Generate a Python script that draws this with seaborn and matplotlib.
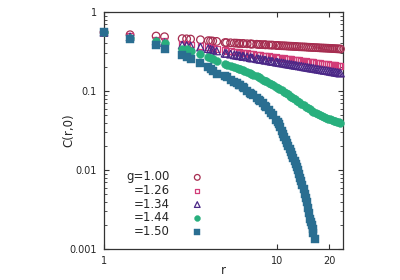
import numpy as np
import pandas as pd
import matplotlib
matplotlib.use("Agg")
import matplotlib.pyplot as plt
import seaborn as sns
from matplotlib.ticker import FixedLocator, FixedFormatter, NullLocator

# distances on the lattice (r) and correlation C(r,0) for each g
r = [1, 1.414, 2, 2.236, 2.828, 3, 3.162, 3.606, 4, 4.123, 4.243, 4.472,
     5, 5.099, 5.385, 5.657, 5.831, 6, 6.083, 6.325, 6.403, 6.708,
     7, 7.071, 7.211, 7.616, 7.81, 8, 8.246, 8.485, 8.602, 8.944,
     9.22, 9.434, 9.849, 10.05, 10.3, 10.6, 10.9, 11.2, 11.5, 11.8,
     12.1, 12.4, 12.7, 13.0, 13.4, 13.8, 14.2, 14.6, 15.0, 15.4,
     15.8, 16.2, 16.7, 17.2, 17.7, 18.2, 18.7, 19.2, 19.7, 20.2,
     20.7, 21.2, 21.7, 22.2, 22.7, 23.2]

c_100 = [0.553, 0.516, 0.497, 0.487, 0.461, 0.458, 0.455, 0.446, 0.434, 0.432, 0.430, 0.425,
         0.411, 0.410, 0.408, 0.405, 0.404, 0.402, 0.401, 0.400, 0.399, 0.397,
         0.395, 0.394, 0.393, 0.391, 0.389, 0.388, 0.387, 0.386, 0.385, 0.383,
         0.382, 0.381, 0.378, 0.378, 0.376, 0.375, 0.374, 0.373, 0.371, 0.370,
         0.369, 0.368, 0.367, 0.366, 0.364, 0.363, 0.362, 0.361, 0.359, 0.358,
         0.357, 0.356, 0.355, 0.354, 0.352, 0.351, 0.350, 0.349, 0.348, 0.347,
         0.346, 0.345, 0.344, 0.343, 0.342, 0.341]

c_126 = [0.553, 0.500, 0.445, 0.425, 0.398, 0.392, 0.388, 0.372, 0.360, 0.356, 0.352, 0.343,
         0.327, 0.325, 0.320, 0.315, 0.312, 0.310, 0.308, 0.305, 0.304, 0.300,
         0.296, 0.295, 0.293, 0.289, 0.286, 0.284, 0.282, 0.280, 0.278, 0.275,
         0.273, 0.271, 0.268, 0.266, 0.264, 0.262, 0.260, 0.258, 0.256, 0.254,
         0.252, 0.250, 0.248, 0.247, 0.245, 0.242, 0.240, 0.238, 0.237, 0.235,
         0.233, 0.231, 0.229, 0.227, 0.225, 0.223, 0.222, 0.220, 0.218, 0.217,
         0.215, 0.214, 0.212, 0.211, 0.209, 0.208]

c_134 = [0.553, 0.485, 0.430, 0.410, 0.382, 0.378, 0.372, 0.360, 0.345, 0.338, 0.332, 0.322,
         0.301, 0.299, 0.293, 0.287, 0.284, 0.281, 0.280, 0.276, 0.274, 0.270,
         0.265, 0.264, 0.262, 0.257, 0.255, 0.252, 0.250, 0.247, 0.246, 0.242,
         0.239, 0.237, 0.233, 0.232, 0.229, 0.227, 0.225, 0.222, 0.220, 0.218,
         0.216, 0.214, 0.212, 0.210, 0.208, 0.206, 0.203, 0.201, 0.199, 0.197,
         0.195, 0.194, 0.191, 0.189, 0.187, 0.185, 0.183, 0.182, 0.180, 0.178,
         0.176, 0.175, 0.173, 0.172, 0.170, 0.169]

c_144 = [0.553, 0.469, 0.426, 0.402, 0.345, 0.336, 0.325, 0.298, 0.272, 0.263, 0.254, 0.238,
         0.218, 0.215, 0.208, 0.201, 0.196, 0.192, 0.190, 0.184, 0.182, 0.174,
         0.167, 0.165, 0.162, 0.153, 0.149, 0.145, 0.140, 0.135, 0.133, 0.127,
         0.123, 0.119, 0.113, 0.110, 0.106, 0.102, 0.0984, 0.0946, 0.0910, 0.0875,
         0.0843, 0.0813, 0.0783, 0.0757, 0.0723, 0.0692, 0.0664, 0.0635, 0.0611, 0.0587,
         0.0565, 0.0547, 0.0527, 0.0509, 0.0492, 0.0479, 0.0467, 0.0456, 0.0447, 0.0438,
         0.0430, 0.0423, 0.0416, 0.0409, 0.0403, 0.0396]

# g=1.50 drops out of the plot, read more finely before it does
r_150 = [1, 1.414, 2, 2.236, 2.828, 3, 3.162, 3.606, 4, 4.123, 4.243, 4.472,
         5, 5.099, 5.385, 5.657, 5.831, 6, 6.083, 6.325, 6.403, 6.708,
         7, 7.071, 7.211, 7.616, 7.81, 8, 8.246, 8.485, 8.602, 8.944,
         9.22, 9.434, 9.849, 10.05, 10.2, 10.4, 10.6, 10.8, 11.0, 11.2,
         11.4, 11.6, 11.8, 12.0, 12.2, 12.4, 12.6, 12.8, 13.0, 13.2,
         13.4, 13.6, 13.8, 14.0, 14.2, 14.4, 14.6, 14.8, 15.0, 15.2,
         15.4, 15.6, 15.8, 16.0, 16.2, 16.5]

c_150 = [0.553, 0.451, 0.379, 0.337, 0.283, 0.272, 0.252, 0.224, 0.201, 0.190, 0.178, 0.165,
         0.153, 0.150, 0.140, 0.131, 0.125, 0.120, 0.118, 0.112, 0.109, 0.101,
         0.094, 0.0925, 0.0893, 0.0815, 0.0780, 0.0746, 0.0697, 0.0652, 0.0632, 0.0577,
         0.0528, 0.0494, 0.0436, 0.0406, 0.0379, 0.0347, 0.0316, 0.0289, 0.0264, 0.0242,
         0.0221, 0.0202, 0.0185, 0.0169, 0.0155, 0.0143, 0.0131, 0.0119, 0.0109, 0.0099,
         0.0090, 0.0080, 0.0072, 0.0065, 0.0057, 0.0050, 0.0044, 0.0039, 0.0033, 0.0029,
         0.0024, 0.0022, 0.0020, 0.0018, 0.0016, 0.00134]

labels = ["g=1.00", "=1.26", "=1.34", "=1.44", "=1.50"]
xs = [r, r, r, r, r_150]
series = [c_100, c_126, c_134, c_144, c_150]
colors = ["#A62D50", "#D23C78", "#4B2887", "#28AF7D", "#2A6E91"]
markers = ["o", "s", "^", "o", "s"]
filled = [False, False, False, True, True]
sizes = [30, 18, 30, 32, 30]

sns.set_style("ticks")
plt.rcParams["font.family"] = ["DejaVu Sans"]

fig, ax = plt.subplots(figsize=(4, 2.8), dpi=100)
fig.subplots_adjust(left=0.26, right=0.8575, bottom=0.11, top=0.957)

for rr, vals, lab, col, mk, fill, sz in zip(xs, series, labels, colors, markers, filled, sizes):
    df = pd.DataFrame({"r": rr, "C": vals})
    if fill:
        sns.scatterplot(data=df, x="r", y="C", marker=mk, s=sz, color=col,
                        edgecolor=col, linewidth=0.3, label=lab, legend=False,
                        ax=ax, clip_on=False, zorder=3)
    else:
        sns.scatterplot(data=df, x="r", y="C", marker=mk, s=sz, facecolor="none",
                        edgecolor=col, linewidth=0.9, label=lab, legend=False,
                        ax=ax, clip_on=False, zorder=3)

ax.set_xscale("log")
ax.set_yscale("log")
ax.set_xlim(1, 24)
ax.set_ylim(0.001, 1)

ax.xaxis.set_major_locator(FixedLocator([1, 10, 20]))
ax.xaxis.set_major_formatter(FixedFormatter(["1", "10", "20"]))
ax.xaxis.set_minor_locator(NullLocator())
ax.yaxis.set_major_locator(FixedLocator([0.001, 0.01, 0.1, 1]))
ax.yaxis.set_major_formatter(FixedFormatter(["0.001", "0.01", "0.1", "1"]))

ax.tick_params(which="both", direction="in", top=True, right=True,
               color="#333333", labelsize=7, pad=5)
ax.tick_params(which="major", length=3.5, width=0.8)
ax.tick_params(which="minor", length=2, width=0.6)
for sp in ax.spines.values():
    sp.set_linewidth(0.9)
    sp.set_color("#333333")

ax.set_xlabel("r", fontsize=8.5)
ax.set_ylabel("C(r,0)", fontsize=8.5)
ax.xaxis.set_label_coords(0.5, -0.063)
ax.yaxis.set_label_coords(-0.121, 0.5)

ax.legend(loc="center right", bbox_to_anchor=(0.41, 0.19), frameon=False,
          markerfirst=False, handlelength=0.8, handletextpad=1.9,
          labelspacing=0.05, borderpad=0, borderaxespad=0, markerscale=0.75,
          fontsize=8.5)

fig.savefig("out.png", dpi=100)
